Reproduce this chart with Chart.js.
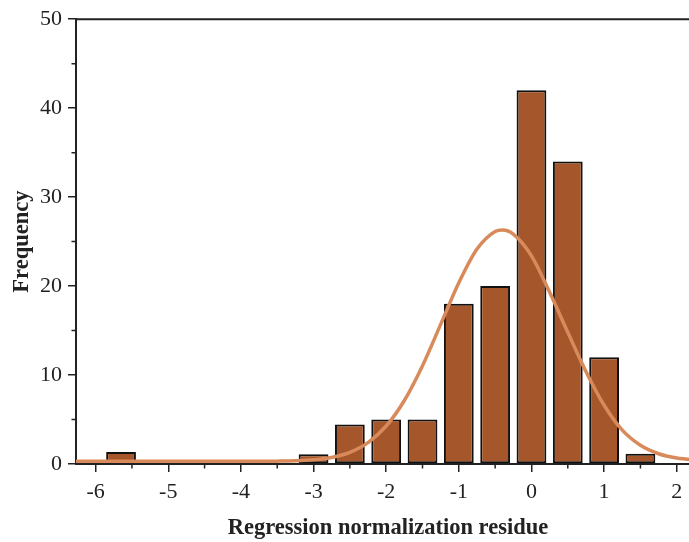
<!DOCTYPE html>
<html>
<head>
<meta charset="utf-8">
<script src="https://cdn.jsdelivr.net/npm/chart.js@4/dist/chart.umd.min.js"></script>
<style>
  html, body { margin: 0; padding: 0; background: #fff; overflow: hidden; }
  #wrap { width: 700px; height: 542px; position: relative; }
</style>
</head>
<body>
<div id="wrap"><canvas id="histChart"></canvas></div>
<script>
// histogram bins (bin centre) and counts
const binCenters = [-5.65, -3, -2.5, -2, -1.5, -1, -0.5, 0, 0.5, 1, 1.5];
const frequencies = [1.35, 1.1, 4.45, 5, 5, 18, 20, 42, 34, 12, 1.15];

// fitted curve
const fitX = [-6.27, -5.5, -5, -4.5, -4, -3.75, -3.5, -3.25, -3, -2.75, -2.5, -2.25, -2, -1.75, -1.5, -1.25, -1, -0.75, -0.5, -0.4, -0.25, 0, 0.25, 0.5, 0.75, 1, 1.25, 1.5, 1.75, 2, 2.32];
const fitY = [0.3, 0.3, 0.3, 0.3, 0.3, 0.31, 0.32, 0.36, 0.48, 0.74, 1.31, 2.4, 4.27, 7.14, 11.05, 15.69, 20.37, 24.16, 26.14, 26.3, 25.85, 23.4, 19.3, 14.8, 10.4, 6.6, 3.8, 2.1, 1.15, 0.68, 0.43];

const xTicksMinor = [-5.5, -4.5, -3.5, -2.5, -1.5, -0.5, 0.5, 1.5];
const yTicksMinor = [5, 15, 25, 35, 45];

const axisColor = '#222';

// top frame line + short minor tick marks
const framePlugin = {
  id: 'frame',
  afterDraw(chart) {
    const { ctx, chartArea, scales } = chart;
    ctx.save();
    ctx.strokeStyle = axisColor;
    ctx.lineWidth = 2;
    ctx.beginPath();
    ctx.moveTo(chartArea.left - 1, chartArea.top);
    ctx.lineTo(chartArea.right, chartArea.top);
    ctx.stroke();

    ctx.lineWidth = 1.5;
    ctx.beginPath();
    xTicksMinor.forEach(v => {
      const px = scales.x.getPixelForValue(v);
      ctx.moveTo(px, chartArea.bottom);
      ctx.lineTo(px, chartArea.bottom + 4.5);
    });
    yTicksMinor.forEach(v => {
      const py = scales.y.getPixelForValue(v);
      ctx.moveTo(chartArea.left, py);
      ctx.lineTo(chartArea.left - 4.5, py);
    });
    ctx.stroke();
    ctx.restore();
  }
};

Chart.defaults.font.family = "'Liberation Serif', 'Times New Roman', serif";
Chart.defaults.font.size = 22;
Chart.defaults.color = axisColor;

const ctx = document.getElementById('histChart').getContext('2d');
new Chart(ctx, {
  type: 'bar',
  data: {
    datasets: [
      {
        type: 'line',
        data: fitX.map((x, i) => ({ x, y: fitY[i] })),
        borderColor: '#D98A5A',
        borderWidth: 3.5,
        pointRadius: 0,
        cubicInterpolationMode: 'monotone',
        order: 0
      },
      {
        type: 'bar',
        data: binCenters.map((x, i) => ({ x, y: frequencies[i] })),
        backgroundColor: '#A5562B',
        borderColor: '#111',
        borderWidth: 2,
        borderSkipped: false,
        categoryPercentage: 1,
        barPercentage: 0.82,
        order: 1
      }
    ]
  },
  options: {
    responsive: true,
    maintainAspectRatio: false,
    animation: false,
    layout: { padding: { top: 17, left: 0, right: 0, bottom: 0 } },
    plugins: {
      legend: { display: false },
      tooltip: { enabled: false }
    },
    scales: {
      x: {
        type: 'linear',
        min: -6.27,
        max: 2.32,
        offset: false,
        grid: { offset: false, drawOnChartArea: false, color: axisColor, lineWidth: 1.5, tickLength: 8 },
        border: { color: axisColor, width: 2 },
        ticks: { stepSize: 1, includeBounds: false, padding: 7, maxRotation: 0 },
        title: {
          display: true,
          text: 'Regression normalization residue',
          font: { size: 22.5, weight: 'bold' },
          padding: { top: 0, bottom: 0 }
        },
        afterFit(scale) { scale.height = 78; }
      },
      y: {
        min: 0,
        max: 50,
        grid: { drawOnChartArea: false, color: axisColor, lineWidth: 1.5, tickLength: 8 },
        border: { color: axisColor, width: 2 },
        ticks: { stepSize: 10, padding: 6 },
        title: {
          display: true,
          text: 'Frequency',
          font: { size: 22.5, weight: 'bold' },
          padding: { top: 9, bottom: 0 }
        },
        afterFit(scale) { scale.width = 76; }
      }
    }
  },
  plugins: [framePlugin]
});
</script>
</body>
</html>
